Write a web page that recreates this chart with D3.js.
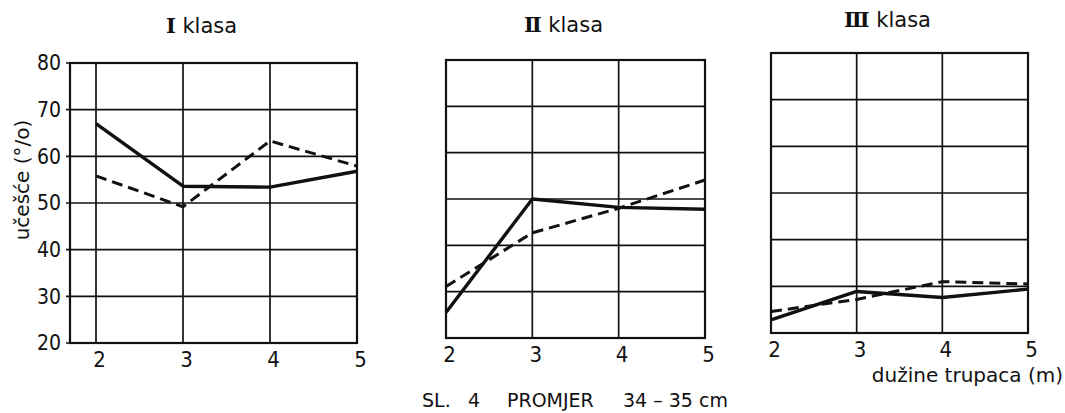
<!DOCTYPE html>
<html>
<head>
<meta charset="utf-8">
<script src="https://cdn.jsdelivr.net/npm/d3@7/dist/d3.min.js"></script>
<style>
  body { margin: 0; background: #fff; }
  svg { display: block; }
  text { font-family: "DejaVu Sans", sans-serif; fill: #111; }
  .num { font-family: "DejaVu Sans Condensed", "DejaVu Sans", sans-serif; font-stretch: condensed; }
  .roman { font-family: "DejaVu Serif", "Liberation Serif", serif; }
</style>
</head>
<body>
<div id="chart"></div>
<script>
var lengths = [2, 3, 4, 5];
var yTicks = [20, 30, 40, 50, 60, 70, 80];
var classNames = ["Ⅰ", "Ⅱ", "Ⅲ"];

var solidI = [67, 53.6, 53.4, 56.8];
var dashedI = [55.8, 49.2, 63.3, 57.9];
var solidII = [25.5, 50, 48.2, 47.8];
var dashedII = [31.1, 42.7, 48, 54.1];
var solidIII = [22.8, 28.9, 27.6, 29.4];
var dashedIII = [24.6, 27.2, 31, 30.5];

var yLabel = "učešće (°/o)";
var xLabel = "dužine trupaca (m)";

// panel frames in pixels
var panels = [
  {name: classNames[0], solid: solidI, dashed: dashedI, left: 70, x0: 96, right: 357, top: 63, bottom: 343, yAxis: true, titleY: 33},
  {name: classNames[1], solid: solidII, dashed: dashedII, left: 446, x0: 446, right: 705, top: 60, bottom: 338, yAxis: false, titleY: 32},
  {name: classNames[2], solid: solidIII, dashed: dashedIII, left: 771, x0: 771, right: 1028, top: 53, bottom: 333, yAxis: false, titleY: 27}
];

var svg = d3.select("#chart").append("svg")
  .attr("width", 1065)
  .attr("height", 413);

panels.forEach(function(p, i) {
  var x = d3.scaleLinear().domain([2, 5]).range([p.x0, p.right]);
  var y = d3.scaleLinear().domain([20, 80]).range([p.bottom, p.top]);
  var g = svg.append("g");

  // horizontal grid
  g.selectAll(".hgrid")
    .data(yTicks)
    .enter()
    .append("line")
    .attr("x1", p.left - (p.yAxis ? 4 : 0))
    .attr("x2", p.right)
    .attr("y1", function(d) { return y(d); })
    .attr("y2", function(d) { return y(d); })
    .attr("stroke", "#111")
    .attr("stroke-width", 1.7);

  // vertical grid
  g.selectAll(".vgrid")
    .data(lengths)
    .enter()
    .append("line")
    .attr("x1", function(d) { return x(d); })
    .attr("x2", function(d) { return x(d); })
    .attr("y1", p.top)
    .attr("y2", p.bottom)
    .attr("stroke", "#111")
    .attr("stroke-width", 1.7);

  // frame
  g.append("rect")
    .attr("x", p.left)
    .attr("y", p.top)
    .attr("width", p.right - p.left)
    .attr("height", p.bottom - p.top)
    .attr("fill", "none")
    .attr("stroke", "#111")
    .attr("stroke-width", 2.2);

  // x axis labels
  var xa = g.append("g")
    .attr("transform", "translate(3," + p.bottom + ")")
    .call(d3.axisBottom(x).tickValues(lengths).tickSize(0).tickPadding(8).tickFormat(d3.format("d")));
  xa.select(".domain").remove();
  xa.selectAll("text").attr("class", "num").attr("font-size", 22).attr("font-family", null);

  if (p.yAxis) {
    var ya = g.append("g")
      .attr("transform", "translate(" + (p.left - 1) + ",0)")
      .call(d3.axisLeft(y).tickValues(yTicks).tickSize(0).tickPadding(8));
    ya.select(".domain").remove();
    ya.selectAll("text").attr("class", "num").attr("font-size", 21).attr("font-family", null);
  }

  var line = d3.line()
    .x(function(d, j) { return x(lengths[j]); })
    .y(function(d) { return y(d); });

  g.append("path")
    .datum(p.solid)
    .attr("d", line)
    .attr("fill", "none")
    .attr("stroke", "#111")
    .attr("stroke-width", 3.4)
    .attr("stroke-linejoin", "round");

  g.append("path")
    .datum(p.dashed)
    .attr("d", line)
    .attr("fill", "none")
    .attr("stroke", "#111")
    .attr("stroke-width", 3)
    .attr("stroke-dasharray", "11,6");

  // title
  var t = svg.append("text")
    .attr("x", (p.left + p.right) / 2 - 12)
    .attr("y", p.titleY)
    .attr("text-anchor", "middle")
    .attr("font-size", 21);
  t.append("tspan").attr("class", "roman").attr("font-weight", "bold").text(p.name);
  t.append("tspan").text(i === 0 ? " klasa" : "  klasa");
});

svg.append("text")
  .attr("transform", "translate(29,180) rotate(-90)")
  .attr("text-anchor", "middle")
  .attr("font-size", 20)
  .text(yLabel);

svg.append("text")
  .attr("x", 1063)
  .attr("y", 382)
  .attr("text-anchor", "end")
  .attr("font-size", 20)
  .text(xLabel);

var caption = [["SL.", 422], ["4", 468], ["PROMJER", 507], ["34 – 35 cm", 623]];
svg.selectAll(".caption")
  .data(caption)
  .enter()
  .append("text")
  .attr("x", function(d) { return d[1]; })
  .attr("y", 407)
  .attr("font-size", 19)
  .text(function(d) { return d[0]; });
</script>
</body>
</html>
